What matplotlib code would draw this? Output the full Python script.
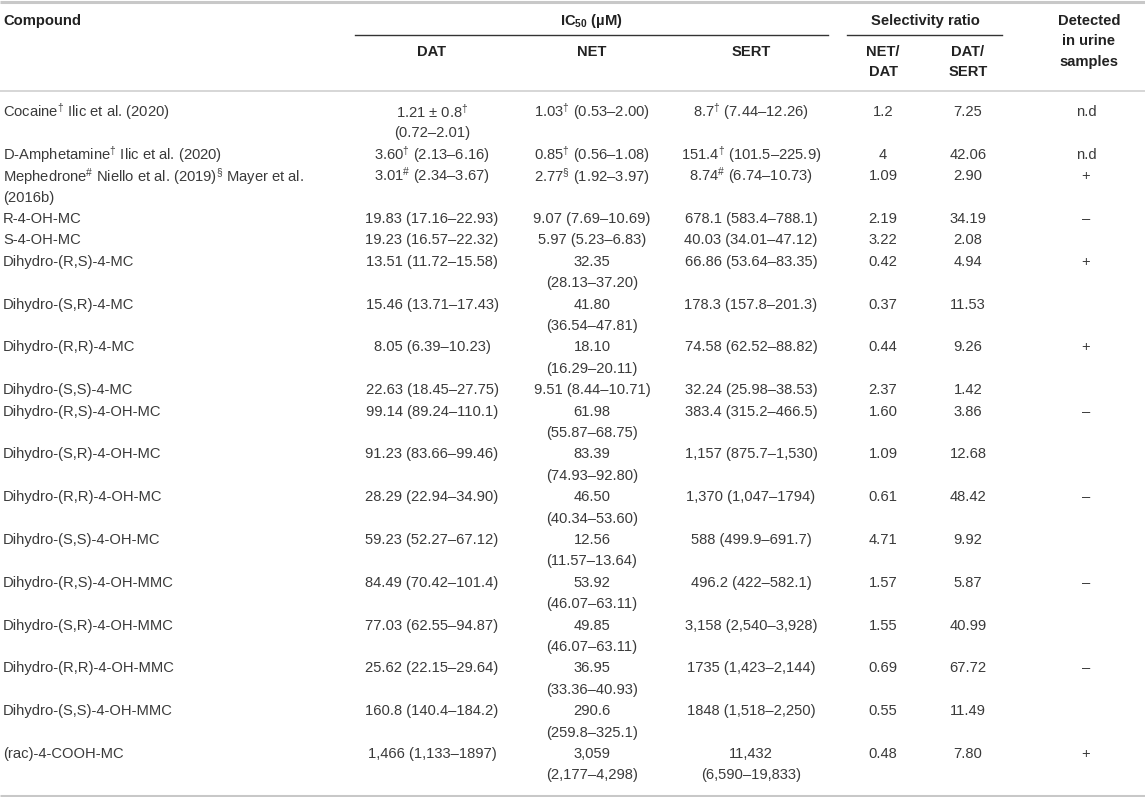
import matplotlib
matplotlib.use("Agg")
import matplotlib.pyplot as plt

plt.rcParams["font.family"] = ["Liberation Sans", "DejaVu Sans"]
plt.rcParams["mathtext.fontset"] = "custom"
plt.rcParams["mathtext.rm"] = "Liberation Sans"
plt.rcParams["mathtext.it"] = "Liberation Sans:italic"
plt.rcParams["mathtext.bf"] = "Liberation Sans:bold"

D = r"$^{\dagger}$"
H = r"$^{\#}$"
S = r"$^{\S}$"

compounds = [
    f"Cocaine{D} Ilic et al. (2020)",
    f"D-Amphetamine{D} Ilic et al. (2020)",
    f"Mephedrone{H} Niello et al. (2019){S} Mayer et al.\n(2016b)",
    "R-4-OH-MC",
    "S-4-OH-MC",
    "Dihydro-(R,S)-4-MC",
    "Dihydro-(S,R)-4-MC",
    "Dihydro-(R,R)-4-MC",
    "Dihydro-(S,S)-4-MC",
    "Dihydro-(R,S)-4-OH-MC",
    "Dihydro-(S,R)-4-OH-MC",
    "Dihydro-(R,R)-4-OH-MC",
    "Dihydro-(S,S)-4-OH-MC",
    "Dihydro-(R,S)-4-OH-MMC",
    "Dihydro-(S,R)-4-OH-MMC",
    "Dihydro-(R,R)-4-OH-MMC",
    "Dihydro-(S,S)-4-OH-MMC",
    "(rac)-4-COOH-MC",
]
dat = [
    f"1.21 ± 0.8{D}\n(0.72–2.01)",
    f"3.60{D} (2.13–6.16)",
    f"3.01{H} (2.34–3.67)",
    "19.83 (17.16–22.93)",
    "19.23 (16.57–22.32)",
    "13.51 (11.72–15.58)",
    "15.46 (13.71–17.43)",
    "8.05 (6.39–10.23)",
    "22.63 (18.45–27.75)",
    "99.14 (89.24–110.1)",
    "91.23 (83.66–99.46)",
    "28.29 (22.94–34.90)",
    "59.23 (52.27–67.12)",
    "84.49 (70.42–101.4)",
    "77.03 (62.55–94.87)",
    "25.62 (22.15–29.64)",
    "160.8 (140.4–184.2)",
    "1,466 (1,133–1897)",
]
net = [
    f"1.03{D} (0.53–2.00)",
    f"0.85{D} (0.56–1.08)",
    f"2.77{S} (1.92–3.97)",
    "9.07 (7.69–10.69)",
    "5.97 (5.23–6.83)",
    "32.35\n(28.13–37.20)",
    "41.80\n(36.54–47.81)",
    "18.10\n(16.29–20.11)",
    "9.51 (8.44–10.71)",
    "61.98\n(55.87–68.75)",
    "83.39\n(74.93–92.80)",
    "46.50\n(40.34–53.60)",
    "12.56\n(11.57–13.64)",
    "53.92\n(46.07–63.11)",
    "49.85\n(46.07–63.11)",
    "36.95\n(33.36–40.93)",
    "290.6\n(259.8–325.1)",
    "3,059\n(2,177–4,298)",
]
sert = [
    f"8.7{D} (7.44–12.26)",
    f"151.4{D} (101.5–225.9)",
    f"8.74{H} (6.74–10.73)",
    "678.1 (583.4–788.1)",
    "40.03 (34.01–47.12)",
    "66.86 (53.64–83.35)",
    "178.3 (157.8–201.3)",
    "74.58 (62.52–88.82)",
    "32.24 (25.98–38.53)",
    "383.4 (315.2–466.5)",
    "1,157 (875.7–1,530)",
    "1,370 (1,047–1794)",
    "588 (499.9–691.7)",
    "496.2 (422–582.1)",
    "3,158 (2,540–3,928)",
    "1735 (1,423–2,144)",
    "1848 (1,518–2,250)",
    "11,432\n(6,590–19,833)",
]
net_dat = ["1.2", "4", "1.09", "2.19", "3.22", "0.42", "0.37", "0.44", "2.37",
           "1.60", "1.09", "0.61", "4.71", "1.57", "1.55", "0.69", "0.55", "0.48"]
dat_sert = ["7.25", "42.06", "2.90", "34.19", "2.08", "4.94", "11.53", "9.26", "1.42",
            "3.86", "12.68", "48.42", "9.92", "5.87", "40.99", "67.72", "11.49", "7.80"]
detected = ["n.d", "n.d", "+", "–", "", "+", "", "+", "",
            "–", "", "–", "", "–", "", "–", "", "+"]

# layout in pixel units (figure is 1145 x 797 px)
W, HGT = 1145, 797
FS = 10.6
TXT = "#3a3a3a"
HEAD = "#222222"
X_COMP = 3
X_DAT, X_NET, X_SERT = 432, 592, 751
X_ND, X_DS, X_DET = 883, 968, 1086
COLS = [(dat, X_DAT), (net, X_NET), (sert, X_SERT),
        (net_dat, X_ND), (dat_sert, X_DS), (detected, X_DET)]
Y0 = 112
LH = 21.4

fig = plt.figure(figsize=(W / 100, HGT / 100), dpi=100)
ax = fig.add_axes([0, 0, 1, 1])
ax.set_xlim(0, W)
ax.set_ylim(HGT, 0)
ax.axis("off")


def put(x, y, s, ha="center", bold=False, color=TXT):
    ax.text(x, y, s, ha=ha, va="center", fontsize=FS, color=color,
            fontweight="bold" if bold else "normal")


# rules
ax.plot([0, W], [1.5, 1.5], color="#c8c8c8", lw=2.2, solid_capstyle="butt")
ax.plot([355, 828], [34.5, 34.5], color="#333333", lw=1.0)
ax.plot([847, 1002], [34.5, 34.5], color="#333333", lw=1.0)
ax.plot([0, W], [90.5, 90.5], color="#d0d0d0", lw=1.2)
ax.plot([0, W], [795.5, 795.5], color="#c8c8c8", lw=2.2, solid_capstyle="butt")

# header
put(X_COMP, 20.5, "Compound", ha="left", bold=True, color=HEAD)
put(591, 20.5, r"IC$_{\mathbf{50}}$ (µM)", bold=True, color=HEAD)
put(925, 20.5, "Selectivity ratio", bold=True, color=HEAD)
for x, lab in [(X_DAT, "DAT"), (X_NET, "NET"), (X_SERT, "SERT")]:
    put(x, 52, lab, bold=True, color=HEAD)
for k, lab in enumerate(["NET/", "DAT"]):
    put(X_ND, 52 + 20 * k, lab, bold=True, color=HEAD)
for k, lab in enumerate(["DAT/", "SERT"]):
    put(X_DS, 52 + 20 * k, lab, bold=True, color=HEAD)
for k, lab in enumerate(["Detected", "in urine", "samples"]):
    put(1089, 20.5 + 20.5 * k, lab, bold=True, color=HEAD)

# body
line = 0
for i, comp in enumerate(compounds):
    cells = [comp] + [c[i] for c, _ in COLS]
    nlines = max(len(c.split("\n")) for c in cells)
    for k, part in enumerate(comp.split("\n")):
        put(X_COMP, Y0 + (line + k) * LH, part, ha="left")
    for col, x in COLS:
        for k, part in enumerate(col[i].split("\n")):
            if part:
                put(x, Y0 + (line + k) * LH, part)
    line += nlines

fig.savefig("out.png", dpi=100)
